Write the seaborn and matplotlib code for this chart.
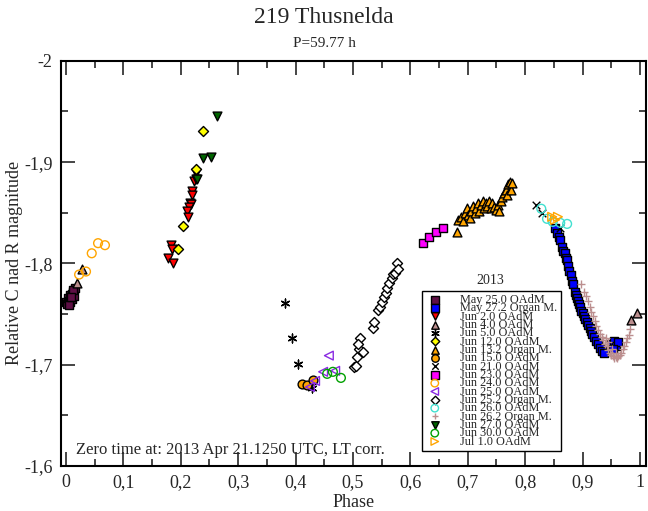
import numpy as np
import matplotlib
matplotlib.use("Agg")
import matplotlib.pyplot as plt
import seaborn as sns
from matplotlib.ticker import MultipleLocator, FuncFormatter

sns.set_style("ticks")
plt.rcParams['font.family'] = ['Liberation Serif', 'DejaVu Serif']

# ---- data (phase, relative magnitude) ----
may25_ph = [0.000, 0.002, 0.004, 0.005, 0.007, 0.008, 0.010, 0.011, 0.013, 0.014, 0.016, 0.006, 0.012, 0.009]
may25_mag = [-1.762, -1.760, -1.766, -1.763, -1.769, -1.762, -1.770, -1.765, -1.772, -1.768, -1.776, -1.759, -1.774, -1.767]

may27_ph = [0.852, 0.856, 0.858, 0.861, 0.864, 0.866, 0.869, 0.871, 0.873, 0.875, 0.877, 0.880, 0.882, 0.884,
            0.886, 0.888, 0.890, 0.892, 0.894, 0.896, 0.898, 0.901, 0.903, 0.905, 0.908, 0.910, 0.912, 0.915,
            0.917, 0.920, 0.923, 0.926, 0.930, 0.934, 0.938, 0.950, 0.955, 0.958, 0.962, 0.953]
may27_mag = [-1.835, -1.830, -1.826, -1.823, -1.816, -1.812, -1.810, -1.805, -1.803, -1.797, -1.793, -1.789, -1.783, -1.780,
             -1.772, -1.769, -1.766, -1.763, -1.760, -1.757, -1.753, -1.751, -1.748, -1.745, -1.742, -1.739, -1.736, -1.733,
             -1.730, -1.727, -1.723, -1.720, -1.717, -1.714, -1.712, -1.720, -1.723, -1.718, -1.722, -1.716]

jun02_ph = [0.183, 0.185, 0.178, 0.186, 0.220, 0.220, 0.216, 0.218, 0.214, 0.211, 0.213, 0.226, 0.223, 0.226]
jun02_mag = [-1.818, -1.814, -1.805, -1.800, -1.871, -1.868, -1.860, -1.859, -1.856, -1.852, -1.846, -1.889, -1.881, -1.883]

jun04_ph = [0.019, 0.028, 0.984, 0.995]
jun04_mag = [-1.781, -1.794, -1.744, -1.751]

jun05_ph = [0.382, 0.394, 0.404, 0.429]
jun05_mag = [-1.761, -1.726, -1.701, -1.677]

jun12_ph = [0.239, 0.226, 0.204, 0.195]
jun12_mag = [-1.931, -1.893, -1.837, -1.814]

jun13_ph = [0.681, 0.683, 0.688, 0.692, 0.695, 0.698, 0.700, 0.703, 0.706, 0.709, 0.712, 0.715, 0.718, 0.720,
            0.723, 0.726, 0.728, 0.731, 0.734, 0.737, 0.740, 0.743, 0.746, 0.749, 0.752, 0.755, 0.757, 0.760,
            0.763, 0.766, 0.768, 0.770, 0.773, 0.775, 0.777]
jun13_mag = [-1.831, -1.843, -1.846, -1.842, -1.850, -1.855, -1.848, -1.845, -1.852, -1.857, -1.850, -1.855, -1.860, -1.852,
             -1.858, -1.862, -1.855, -1.860, -1.857, -1.862, -1.855, -1.860, -1.856, -1.853, -1.858, -1.852, -1.862, -1.866,
             -1.870, -1.872, -1.868, -1.878, -1.880, -1.872, -1.879]

jun15_ph = [0.411, 0.420, 0.430]
jun15_mag = [-1.681, -1.680, -1.685]

jun21_ph = [0.819, 0.829, 0.861]
jun21_mag = [-1.858, -1.850, -1.835]

jun23_ph = [0.622, 0.632, 0.645, 0.657]
jun23_mag = [-1.820, -1.826, -1.831, -1.835]

jun24_ph = [0.023, 0.035, 0.045, 0.056, 0.068]
jun24_mag = [-1.789, -1.792, -1.810, -1.820, -1.818]

jun25_ph = [0.458, 0.448, 0.469, 0.434, 0.425]
jun25_mag = [-1.709, -1.693, -1.694, -1.684, -1.678]

jun252_ph = [0.502, 0.505, 0.507, 0.510, 0.517, 0.512, 0.509, 0.535, 0.537, 0.544, 0.547, 0.551, 0.554, 0.557,
             0.559, 0.563, 0.568, 0.570, 0.573, 0.577, 0.578]
jun252_mag = [-1.698, -1.699, -1.708, -1.716, -1.713, -1.726, -1.720, -1.736, -1.742, -1.754, -1.757, -1.762, -1.767, -1.771,
              -1.776, -1.781, -1.786, -1.790, -1.791, -1.800, -1.794]

jun26_ph = [0.828, 0.838, 0.848, 0.861, 0.873]
jun26_mag = [-1.854, -1.844, -1.841, -1.840, -1.839]

jun262_ph = [0.898, 0.902, 0.906, 0.909, 0.912, 0.915, 0.918, 0.921, 0.924, 0.927, 0.930, 0.933, 0.936, 0.939,
             0.942, 0.945, 0.948, 0.950, 0.953, 0.955, 0.958, 0.960, 0.962, 0.965, 0.967, 0.970, 0.972, 0.975,
             0.977, 0.980, 0.982, 0.945, 0.952, 0.958, 0.940]
jun262_mag = [-1.780, -1.772, -1.768, -1.763, -1.757, -1.752, -1.748, -1.743, -1.738, -1.734, -1.730, -1.727, -1.724, -1.720,
              -1.718, -1.715, -1.712, -1.710, -1.709, -1.707, -1.708, -1.707, -1.709, -1.710, -1.712, -1.716, -1.718, -1.722,
              -1.726, -1.729, -1.735, -1.722, -1.716, -1.712, -1.726]

jun27_ph = [0.263, 0.239, 0.253, 0.228]
jun27_mag = [-1.946, -1.904, -1.905, -1.883]

jun30_ph = [0.455, 0.465, 0.479]
jun30_mag = [-1.691, -1.693, -1.687]

jul01_ph = [0.847, 0.857, 0.852]
jul01_mag = [-1.846, -1.846, -1.843]

# label, x, y, marker, face, edge
series = [
    ("May 25.0 OAdM", may25_ph, may25_mag, "s", "#5e0f45", "black"),
    ("May 27.2 Organ M.", may27_ph, may27_mag, "s", "#0000ff", "black"),
    ("Jun 2.0 OAdM", jun02_ph, jun02_mag, "v", "#ff0000", "black"),
    ("Jun 4.0 OAdM", jun04_ph, jun04_mag, "^", "#bc8f8f", "black"),
    ("Jun 5.0 OAdM", jun05_ph, jun05_mag, (6, 2, 0), "black", "black"),
    ("Jun 12.0 OAdM", jun12_ph, jun12_mag, "D", "#ffff00", "black"),
    ("Jun 13.2 Organ M.", jun13_ph, jun13_mag, "^", "#ffa500", "black"),
    ("Jun 15.0 OAdM", jun15_ph, jun15_mag, "o", "#ffa500", "black"),
    ("Jun 21.0 OAdM", jun21_ph, jun21_mag, "x", "black", "black"),
    ("Jun 23.0 OAdM", jun23_ph, jun23_mag, "s", "#ff00ff", "black"),
    ("Jun 24.0 OAdM", jun24_ph, jun24_mag, "o", "none", "#ffa500"),
    ("Jun 25.0 OAdM", jun25_ph, jun25_mag, "<", "none", "#8a2be2"),
    ("Jun 25.2 Organ M.", jun252_ph, jun252_mag, "D", "white", "black"),
    ("Jun 26.0 OAdM", jun26_ph, jun26_mag, "o", "none", "#40e0d0"),
    ("Jun 26.2 Organ M.", jun262_ph, jun262_mag, "+", "#bc8f8f", "#bc8f8f"),
    ("Jun 27.0 OAdM", jun27_ph, jun27_mag, "v", "#006400", "black"),
    ("Jun 30.0 OAdM", jun30_ph, jun30_mag, "o", "none", "#00a000"),
    ("Jul 1.0 OAdM", jul01_ph, jul01_mag, ">", "none", "#ffa500"),
]

fig = plt.figure(figsize=(6.48, 5.11), dpi=100)
ax = fig.add_axes([0.094, 0.088, 0.903, 0.793])

for label, xs, ys, mk, fc, ec in series:
    size = 40
    if mk == "D":
        size = 26
    if mk in ("x", "+"):
        sns.scatterplot(x=xs, y=ys, marker=mk, color=ec, s=30, linewidth=1.0, ax=ax, label=label)
    else:
        sns.scatterplot(x=xs, y=ys, marker=mk, facecolor=fc, edgecolor=ec, s=size,
                        linewidth=1.0, ax=ax, label=label)

ax.set_xlim(-0.0087, 1.0105)
ax.set_ylim(-1.6, -2.0)
ax.xaxis.set_major_locator(MultipleLocator(0.1))
ax.xaxis.set_minor_locator(MultipleLocator(0.05))
ax.yaxis.set_major_locator(MultipleLocator(0.1))
ax.yaxis.set_minor_locator(MultipleLocator(0.05))


def comma(v, pos):
    s = f"{v:.1f}".rstrip("0").rstrip(".")
    if s == "-0":
        s = "0"
    return s.replace(".", ",")


ax.xaxis.set_major_formatter(FuncFormatter(comma))
ax.yaxis.set_major_formatter(FuncFormatter(comma))
ax.tick_params(which="both", direction="in", top=True, right=True, labelsize=13, width=1.2)
ax.tick_params(which="major", length=10, pad=6)
ax.tick_params(which="minor", length=5)
for sp in ax.spines.values():
    sp.set_linewidth(1.5)
    sp.set_color("black")

ax.set_xlabel("Phase", fontsize=13, labelpad=2)
ax.set_ylabel("Relative C nad R magnitude", fontsize=13, labelpad=1)

fig.text(0.5, 0.965, "219 Thusnelda", ha="center", va="center", fontsize=17)
fig.text(0.5, 0.915, "P=59.77 h", ha="center", va="center", fontsize=11)

ax.text(0.025, 0.04, "Zero time at: 2013 Apr 21.1250 UTC, LT corr.", transform=ax.transAxes,
        fontsize=12, ha="left", va="center")

leg = ax.legend(loc="upper left", bbox_to_anchor=(0.617, 0.432), fontsize=8.8, frameon=True,
                fancybox=False, framealpha=1, edgecolor="black", labelspacing=-0.3,
                handletextpad=1.3, borderpad=0.25, borderaxespad=0, handlelength=1.6, markerscale=0.85)
leg.get_frame().set_linewidth(1.0)
ax.text(0.733, 0.459, "2013", transform=ax.transAxes, ha="center", va="center", fontsize=10)

fig.savefig("out.png", dpi=100)
